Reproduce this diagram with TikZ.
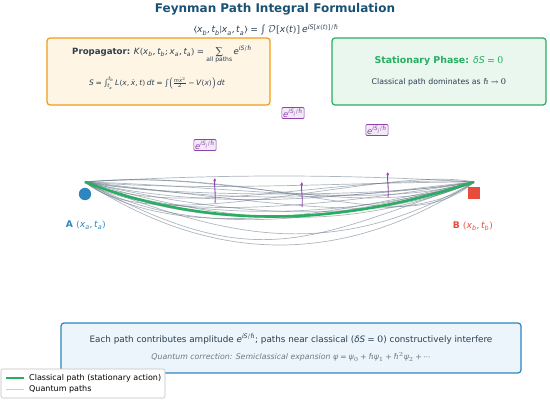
\documentclass[tikz,border=0pt]{standalone}
\usepackage{fontspec}
\usepackage{unicode-math}
\setmainfont{DejaVu Sans}
\setmathfont{DejaVu Math TeX Gyre}
\setmathfont{DejaVu Sans Oblique}[range={it->up}]
\usetikzlibrary{arrows.meta}

\definecolor{titleblue}{HTML}{1A5276}
\definecolor{navy}{HTML}{2C3E50}
\definecolor{orng}{HTML}{F39C12}
\definecolor{orngfill}{HTML}{FEF5E4}
\definecolor{grn}{HTML}{27AE60}
\definecolor{grnfill}{HTML}{E9F7EF}
\definecolor{blu}{HTML}{2E86C1}
\definecolor{blufill}{HTML}{EBF5FB}
\definecolor{rd}{HTML}{E74C3C}
\definecolor{purp}{HTML}{8E44AD}
\definecolor{pathgray}{HTML}{5D6D7E}

\begin{document}
\begin{tikzpicture}[x=1pt,y=-1pt,
				panel/.style={
					rounded corners=3pt, line width=1.2pt
				},
				qpath/.style={
					pathgray, opacity=0.5, line width=0.7pt
				},
				phase/.style={
					draw=purp, fill=purp!12, text=purp, rounded corners=1pt,
					inner sep=1.3pt, line width=0.6pt, font=\fontsize{8.5}{9}\selectfont
				},
				kick/.style={
					purp, line width=0.9pt, -{Stealth[length=3.5pt,width=3pt]}
				},
				txt/.style={
					text=navy, inner sep=0pt
				}
				]
				\useasboundingbox (0,0) rectangle (550,401);
				
				\node[text=titleblue, font=\fontsize{12}{13}\selectfont\bfseries] (title) at (275,9) {Feynman Path Integral Formulation};
				\node[txt, font=\fontsize{9.2}{10}\selectfont] (amp) at (266,30)
				{$\langle x_b, t_b | x_a, t_a\rangle = \int \mathcal{D}[x(t)]\, e^{iS[x(t)]/\hbar}$};
				
				% propagator and stationary phase panels
				\draw[panel, draw=orng, fill=orngfill] (47,38) rectangle (270,105);
				\node[txt, font=\fontsize{8.6}{9}\selectfont] (prop) at (162,55)
				{\textbf{Propagator:} $K(x_b, t_b; x_a, t_a) = \sum\limits_{\text{all paths}} e^{iS/\hbar}$};
				\node[txt, font=\fontsize{7.5}{8}\selectfont] (act) at (157,83)
				{$S = \int_{t_a}^{t_b} L(x,\dot{x},t)\,dt = \int\!\left(\frac{m\dot{x}^2}{2} - V(x)\right)dt$};
				
				\draw[panel, draw=grn, fill=grnfill] (332,38) rectangle (546,105);
				\node[text=grn, inner sep=0pt, font=\fontsize{9.4}{10}\selectfont] (stat) at (439,61)
				{\textbf{Stationary Phase:} $\delta S = 0$};
				\node[txt, font=\fontsize{7.8}{8}\selectfont] (dom) at (439,82)
				{Classical path dominates as $\hbar \to 0$};
				
				% end points
				\coordinate (pa) at (85,182);
				\coordinate (pb) at (474,182);
				\fill[blu] (85,194) circle (6.2);
				\fill[rd] (468,187) rectangle (480,199);
				\node[text=blu, font=\fontsize{9.2}{10}\selectfont] (lA) at (86,225) {\textbf{A} $(x_a, t_a)$};
				\node[text=rd, font=\fontsize{9.2}{10}\selectfont] (lB) at (473,226) {\textbf{B} $(x_b, t_b)$};
				
				% quantum paths
				\foreach \a/\b/\c/\d in {130/-8/-130/-8, 120/10/-120/0, 150/34/-100/10, 100/56/-150/44,
					130/84/-130/84, 90/24/-160/66, 160/66/-90/22, 110/44/-110/34, 140/-14/-120/42,
					100/40/-140/-8, 170/92/-170/60, 80/16/-80/16, 120/28/-120/50, 150/4/-100/28,
					100/70/-100/22, 130/50/-150/86, 60/34/-200/34, 200/22/-60/46, 140/20/-140/20,
					70/60/-90/-18, 190/-16/-70/62}
				\draw[qpath] (pa) .. controls +(\a,\b) and +(\c,\d) .. (pb);
				
				% classical path
				\draw[grn, line width=2.6pt] (pa) .. controls +(120,46) and +(-140,46) .. (pb);
				
				% phase arrows
				\coordinate (k1) at (215,203);
				\coordinate (k2) at (302,207);
				\coordinate (k3) at (388,197);
				\draw[kick] (k1) .. controls +(1,-9) and +(-1,8) .. +(0,-25);
				\draw[kick] (k2) .. controls +(1,-9) and +(-1,8) .. +(0,-25);
				\draw[kick] (k3) .. controls +(1,-9) and +(-1,8) .. +(0,-25);
				
				\node[phase] (e1) at (205,145) {$e^{iS_j/\hbar}$};
				\node[phase] (e2) at (293,113) {$e^{iS_j/\hbar}$};
				\node[phase] (e3) at (377,130) {$e^{iS_j/\hbar}$};
				
				% bottom note
				\draw[panel, draw=blu, fill=blufill] (61,323) rectangle (521,373);
				\node[txt, font=\fontsize{8.8}{9}\selectfont] (note) at (291,339)
				{Each path contributes amplitude $e^{iS/\hbar}$; paths near classical ($\delta S = 0$) constructively interfere};
				\node[text=navy!70, inner sep=0pt, font=\fontsize{7.8}{8}\selectfont\itshape] (corr) at (291,357)
				{Quantum correction: Semiclassical expansion $\psi = \psi_0 + \hbar\psi_1 + \hbar^2\psi_2 + \cdots$};
				
				% legend
				\draw[rounded corners=2pt, draw=gray!50, fill=white, line width=0.6pt] (1,369) rectangle (165,398);
				\draw[grn, line width=2pt] (6,378) -- (24,378);
				\draw[gray!40, line width=0.8pt] (6,389) -- (24,389);
				\node[anchor=west, text=black, inner sep=0pt, font=\fontsize{8}{9}\selectfont] (lg1) at (29,378) {Classical path (stationary action)};
				\node[anchor=west, text=black, inner sep=0pt, font=\fontsize{8}{9}\selectfont] (lg2) at (29,389) {Quantum paths};
			\end{tikzpicture}
\end{document}
